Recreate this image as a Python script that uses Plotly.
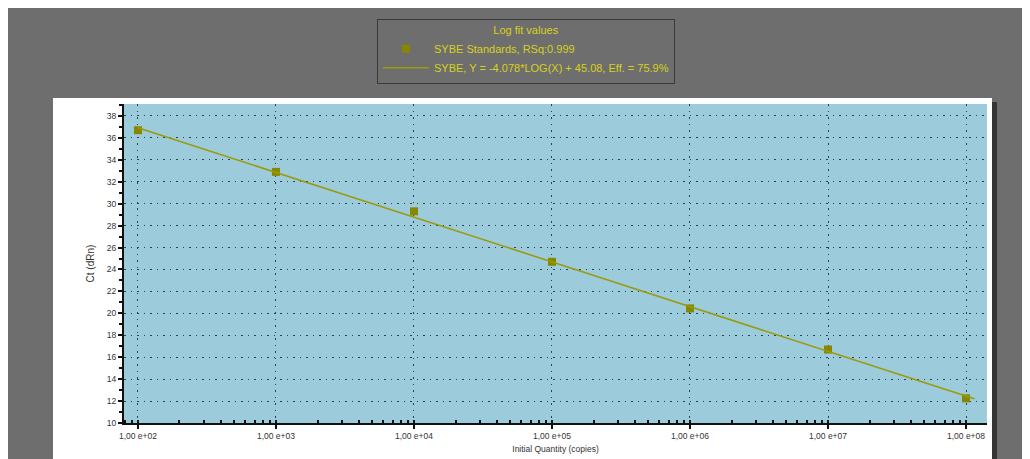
import math
import plotly.graph_objects as go

# ---- data ----
quantities = [1e2, 1e3, 1e4, 1e5, 1e6, 1e7, 1e8]
ct_values = [36.7, 32.9, 29.3, 24.7, 20.45, 16.7, 12.25]
fit_slope = -4.078
fit_intercept = 45.08
fit_x = [1e2, 1.15e8]
x_tickvals = [1e2, 1e3, 1e4, 1e5, 1e6, 1e7, 1e8]
x_ticktext = ["1,00 e+02", "1,00 e+03", "1,00 e+04", "1,00 e+05", "1,00 e+06", "1,00 e+07", "1,00 e+08"]
y_tickvals = list(range(10, 40, 2))

fit_y = [fit_slope * math.log10(v) + fit_intercept for v in fit_x]

W, H = 1030, 459
OFF = 8  # page body margin
L, R, T, B = 124 - OFF, 987 - OFF, 103 - OFF, 423 - OFF

def px(x):  # page pixel -> paper
    return (x - OFF - L) / (R - L)

def py(y):
    return (B - (y - OFF)) / (B - T)

GREY = "#6e6e6e"
BLUE = "#9ccbdb"
YEL = "#d6d21a"
OLIVE = "#878700"
LINEC = "#9a9a0a"
GRID = "#27444c"

fig = go.Figure()
fig.add_trace(go.Scatter(
    x=quantities, y=ct_values, mode="markers",
    name="SYBE Standards, RSq:0.999",
    marker=dict(symbol="square", size=8, color=OLIVE),
))
fig.add_trace(go.Scatter(
    x=fit_x, y=fit_y, mode="lines",
    name="SYBE, Y = -4.078*LOG(X) + 45.08, Eff. = 75.9%",
    line=dict(color=LINEC, width=1.5),
))

shapes = [
    # shadow of panel
    dict(type="rect", xref="paper", yref="paper", x0=px(992), x1=px(997), y0=py(101), y1=py(H + 20),
         fillcolor="#353535", line_width=0, layer="below"),
    # white chart panel
    dict(type="rect", xref="paper", yref="paper", x0=px(53), x1=px(992), y0=py(97), y1=py(H + 20),
         fillcolor="white", line_width=0, layer="below"),
    # plot area background
    dict(type="rect", xref="paper", yref="paper", x0=0, x1=1, y0=0, y1=1,
         fillcolor=BLUE, line_width=0, layer="below"),
    # inner light edge of legend box
    dict(type="rect", xref="paper", yref="paper", x0=px(378.5), x1=px(670.5), y0=py(20.5), y1=py(78.5),
         fillcolor="rgba(0,0,0,0)", line=dict(color="#8a8a8a", width=1), layer="above"),
]

TICKFONT = dict(size=8.5, color="#333333")

fig.update_layout(
    width=W, height=H,
    margin=dict(l=L, r=W - R, t=T, b=H - B),
    paper_bgcolor=GREY,
    plot_bgcolor="rgba(0,0,0,0)",
    font=dict(family="Liberation Sans, Arial, sans-serif", size=10, color="#222222"),
    shapes=shapes,
    showlegend=True,
    legend=dict(
        x=px(377), y=py(19), xanchor="left", yanchor="top",
        bgcolor=GREY, bordercolor="#3a3a3a", borderwidth=1,
        font=dict(size=11, color=YEL),
        title=dict(text="Log fit values", side="top center", font=dict(size=11, color=YEL)),
        itemwidth=46, tracegroupgap=0,
    ),
    xaxis=dict(
        type="log", range=[2 - 0.101, 2 + 6.152],
        tickvals=x_tickvals, ticktext=x_ticktext,
        ticks="outside", ticklen=4, tickcolor="#111111", tickwidth=1.5,
        tickfont=TICKFONT,
        showgrid=True, gridcolor=GRID, griddash="1.5px,5px", gridwidth=1.2,
        showline=True, linecolor="#111111", linewidth=2,
        zeroline=False,
        minor=dict(ticks="inside", ticklen=3, tickcolor="#111111", tickwidth=1.5,
                   showgrid=False, dtick="D1"),
        title=dict(text="Initial Quantity (copies)", font=dict(size=8.5, color="#333333"), standoff=6),
    ),
    yaxis=dict(
        range=[10, 10 + (B - T) / 11.0],
        tickvals=y_tickvals,
        ticks="outside", ticklen=4, tickcolor="#111111", tickwidth=1.5,
        tickfont=TICKFONT,
        showgrid=True, gridcolor=GRID, griddash="1.5px,5px", gridwidth=1.2,
        showline=True, linecolor="#111111", linewidth=2,
        zeroline=False,
        minor=dict(ticks="outside", ticklen=3, tickcolor="#111111", dtick=1, showgrid=False),
        title=dict(text="Ct (dRn)", font=dict(size=10, color="#333333"), standoff=10),
    ),
)

fig.write_html("out.html")
